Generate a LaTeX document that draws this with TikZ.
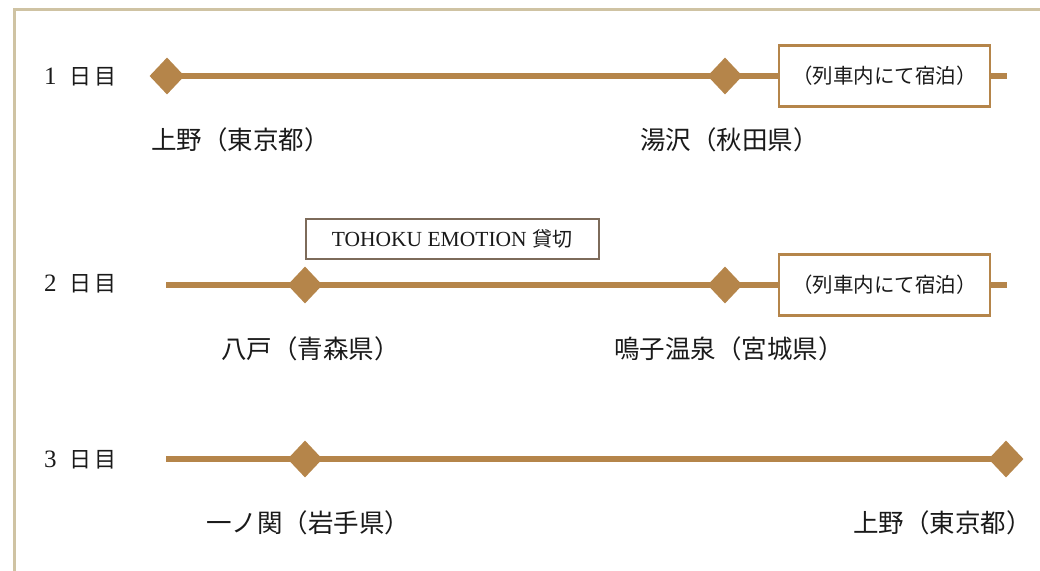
\documentclass[tikz,border=0pt]{standalone}
\usepackage{fontspec}
\setmainfont{Liberation Serif}
\newfontfamily\jp{Noto Sans CJK JP}
\usetikzlibrary{shapes.geometric,backgrounds}
\definecolor{gold}{HTML}{B5854A}
\definecolor{frame}{HTML}{CFC3A3}
\definecolor{greybrown}{HTML}{7D6B5A}
\definecolor{ink}{HTML}{1A1A1A}
\newcommand{\daylabel}[1]{{\fontsize{25}{25}\selectfont #1}\hspace{13pt}{\jp\fontsize{22}{22}\selectfont 日\hspace{3pt}目}}
\tikzset{
  stop/.style={diamond, fill=gold, draw=none, inner sep=0pt, minimum width=35pt, minimum height=37pt},
  route/.style={draw=gold, line width=6pt},
  place/.style={anchor=west, inner sep=0pt, text=ink, font=\jp\fontsize{25.5}{25.5}\selectfont},
  day/.style={anchor=west, inner sep=0pt, text=ink},
  sleepbox/.style={draw=gold, line width=2.5pt, fill=white, minimum width=211pt, minimum height=61pt, inner sep=0pt, text=ink, font=\jp\fontsize{20.5}{20.5}\selectfont},
  charterbox/.style={draw=greybrown, line width=2pt, fill=white, minimum width=293pt, minimum height=40pt, inner sep=0pt, text=ink, font=\fontsize{21.5}{21.5}\selectfont}
}
\begin{document}
\begin{tikzpicture}[x=1pt,y=-1pt]
\useasboundingbox (0,0) rectangle (1040,570);
\begin{scope}
\clip (0,0) rectangle (1040,570);
\draw[frame, line width=3pt] (14,580) -- (14,9.5) -- (1050,9.5);
\end{scope}

% day labels
\node[day] (day1) at (44,77) {\daylabel{1}};
\node[day] (day2) at (44,284) {\daylabel{2}};
\node[day] (day3) at (44,460) {\daylabel{3}};

% row 1
\node[stop] (d11) at (167,76) {};
\node[stop] (d12) at (725,76) {};
\node[sleepbox] (b1) at (884.5,76) {（列車内にて宿泊）};
\coordinate (e1) at (1007,76);
\node[place] (p11) at (151,140) {上野（東京都）};
\node[place] (p12) at (640,140) {湯沢（秋田県）};

% row 2
\coordinate (s2) at (166,285);
\node[stop] (d21) at (305,285) {};
\node[stop] (d22) at (725,285) {};
\node[sleepbox] (b2) at (884.5,285) {（列車内にて宿泊）};
\coordinate (e2) at (1007,285);
\node[charterbox] (c2) at (452,239) {TOHOKU EMOTION {\jp\fontsize{20}{20}\selectfont 貸切}};
\node[place] (p21) at (221,349) {八戸（青森県）};
\node[place] (p22) at (614,349) {鳴子温泉（宮城県）};

% row 3
\coordinate (s3) at (166,459);
\node[stop] (d31) at (305,459) {};
\node[stop] (d32) at (1006,459) {};
\node[place] (p31) at (206,523) {一ノ関（岩手県）};
\node[place] (p32) at (853,523) {上野（東京都）};

\begin{scope}[on background layer]
\draw[route] (d11.center) -- (d12.center) -- (b1.west);
\draw[route] (b1.east) -- (e1);
\draw[route] (s2) -- (d21.center) -- (d22.center) -- (b2.west);
\draw[route] (b2.east) -- (e2);
\draw[route] (s3) -- (d31.center) -- (d32.center);
\end{scope}
\end{tikzpicture}
\end{document}
